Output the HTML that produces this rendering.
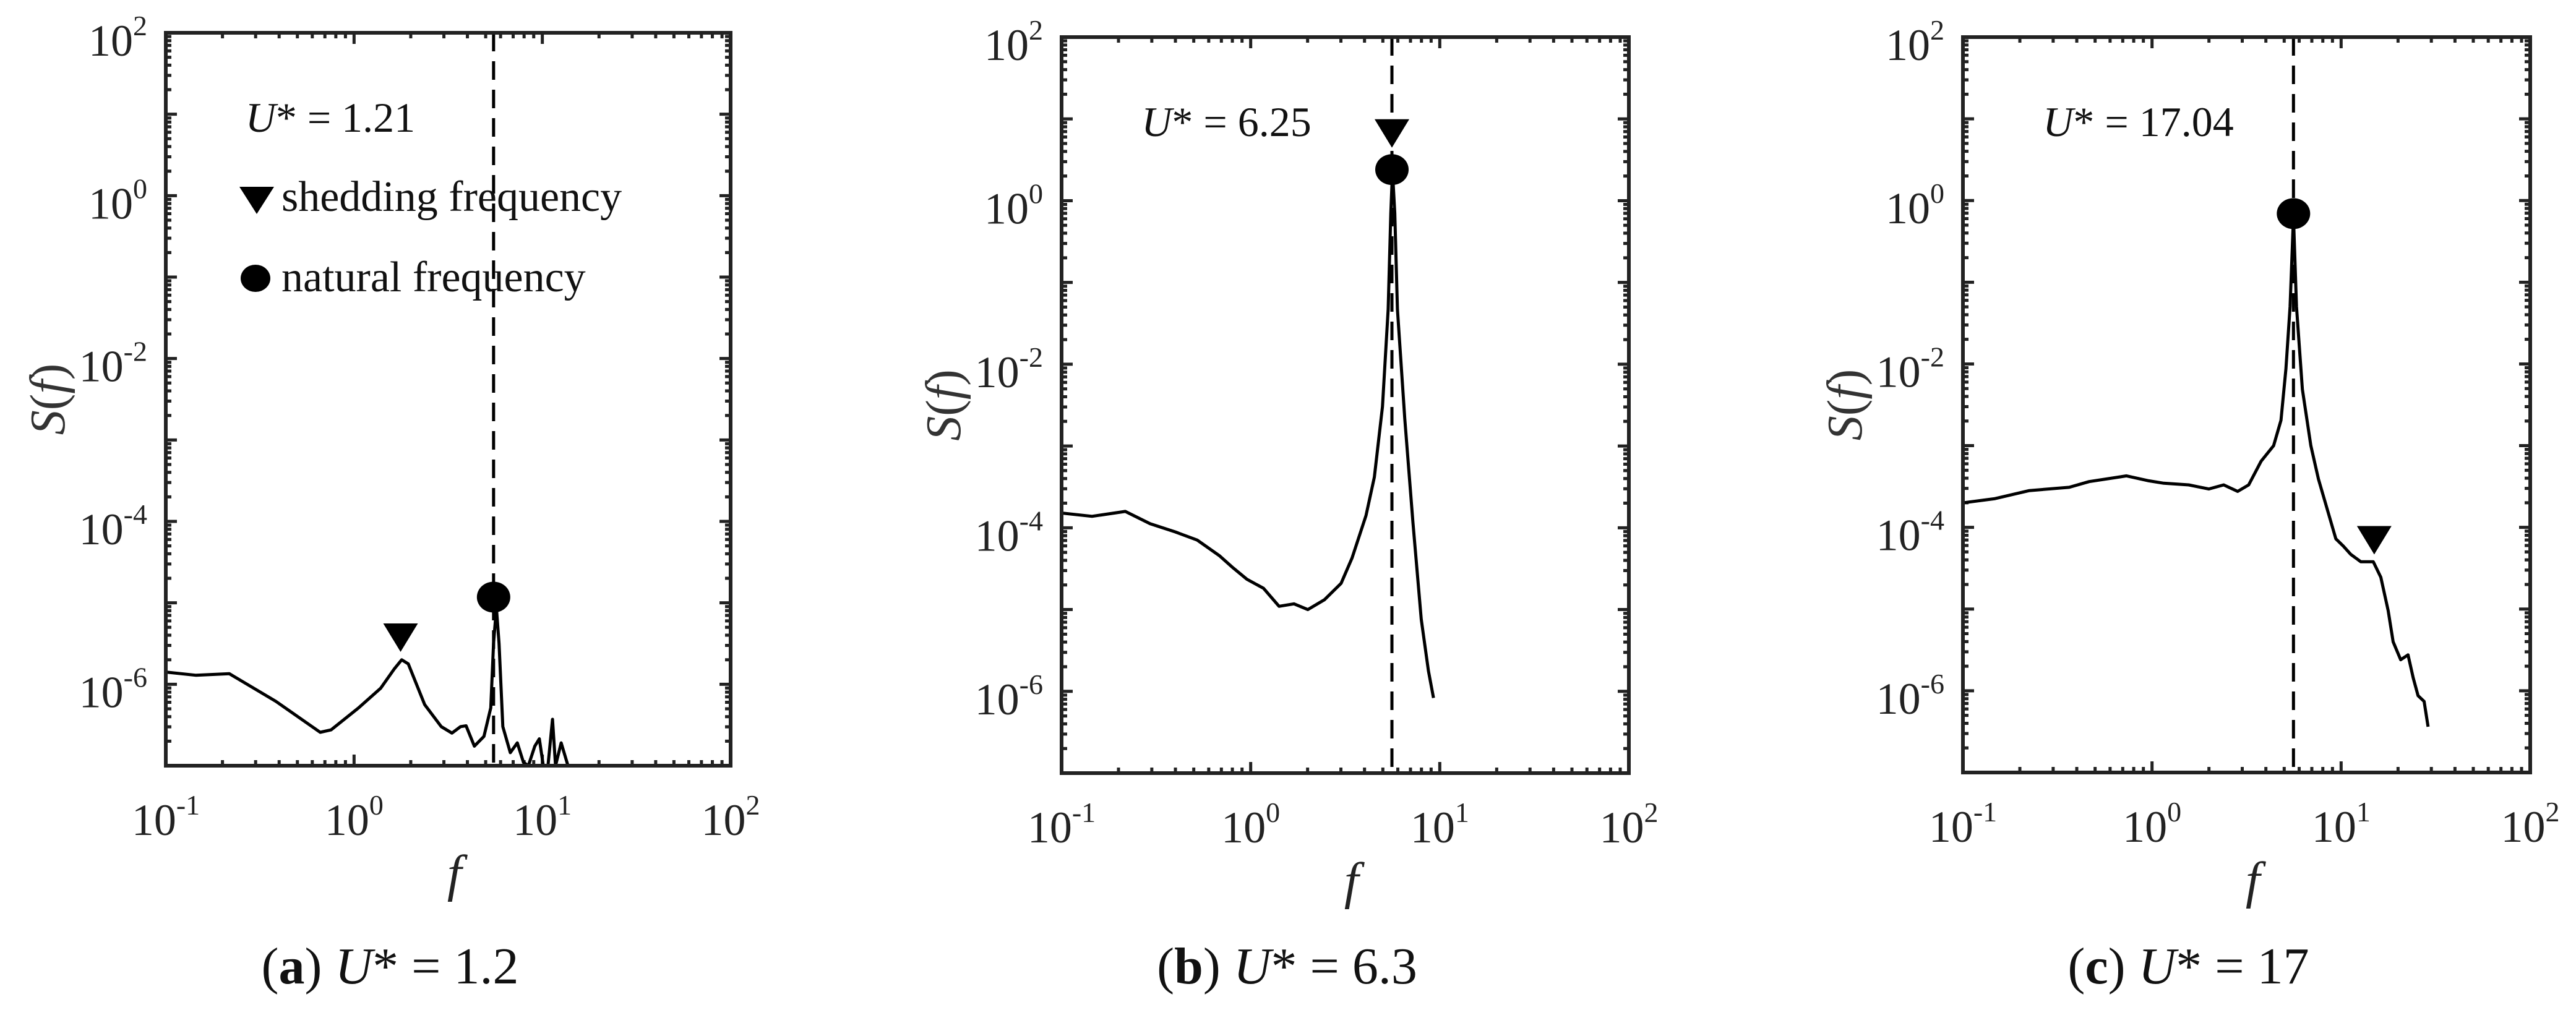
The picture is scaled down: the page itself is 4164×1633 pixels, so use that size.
<!DOCTYPE html>
<html><head><meta charset="utf-8"><style>
html,body{margin:0;padding:0;background:#fff;}
svg{display:block;}
svg text{font-family:"Liberation Serif","Times New Roman","DejaVu Serif",serif;}
</style></head><body>
<svg id="fig" width="4164" height="1633" viewBox="0 0 4164 1633" xmlns="http://www.w3.org/2000/svg" font-family="'Liberation Serif', 'Times New Roman', serif"></svg>
<script>
// ---- data (log10 f, log10 S) ----
const aLogF=[-1,-0.839,-0.663,-0.415,-0.18,-0.122,0.024,0.141,0.214,0.253,0.288,0.375,0.463,0.52,0.566,0.595,0.639,0.69,0.726,0.741,0.756,0.77,0.79,0.83,0.867,0.90,0.926,0.96,0.984,1.005,1.03,1.054,1.07,1.1,1.136];
const aLogS=[-5.85,-5.89,-5.87,-6.21,-6.59,-6.56,-6.29,-6.05,-5.81,-5.70,-5.75,-6.25,-6.52,-6.6,-6.52,-6.51,-6.76,-6.64,-6.29,-5.5,-5.06,-5.5,-6.52,-6.84,-6.72,-6.96,-7.0,-6.76,-6.67,-7.0,-7.0,-6.43,-7.0,-6.72,-7.0];
const bLogF=[-1,-0.839,-0.663,-0.532,-0.4,-0.283,-0.166,-0.093,-0.02,0.068,0.15,0.229,0.302,0.39,0.478,0.536,0.61,0.654,0.697,0.727,0.741,0.75,0.762,0.776,0.815,0.858,0.902,0.94,0.967];
const bLogS=[-3.82,-3.86,-3.80,-3.95,-4.05,-4.15,-4.34,-4.49,-4.63,-4.74,-4.96,-4.93,-5.0,-4.88,-4.68,-4.37,-3.85,-3.38,-2.52,-1.33,-0.15,0.36,-0.15,-1.33,-2.67,-3.93,-5.12,-5.75,-6.08];
const cLogF=[-1,-0.834,-0.649,-0.438,-0.333,-0.135,-0.017,0.062,0.194,0.30,0.379,0.453,0.511,0.577,0.643,0.682,0.708,0.73,0.748,0.764,0.795,0.84,0.88,0.932,0.972,1.012,1.051,1.104,1.17,1.21,1.249,1.275,1.315,1.354,1.381,1.407,1.439,1.46];
const cLogS=[-3.70,-3.65,-3.55,-3.51,-3.44,-3.37,-3.43,-3.46,-3.48,-3.53,-3.48,-3.56,-3.48,-3.19,-3.0,-2.69,-2.06,-1.30,-0.20,-1.30,-2.31,-3.0,-3.41,-3.82,-4.14,-4.23,-4.33,-4.42,-4.42,-4.61,-5.02,-5.40,-5.62,-5.56,-5.84,-6.06,-6.13,-6.44];
const naturalLogF=[0.741,0.747,0.748];
const naturalLogS=[-4.93,0.38,-0.16];
const sheddingLogF=[0.247,0.747,1.175];
const sheddingLogS=[-5.42,0.83,-4.15];
const dashLogF=[0.741,0.747,0.748];
const uLabels=["U* = 1.21","U* = 6.25","U* = 17.04"];
const captionLetters=["a","b","c"];
const captionValues=["1.2","6.3","17"];
const xTickExp=[-1,0,1,2];
const yTickExp=[2,0,-2,-4,-6];

const NS="http://www.w3.org/2000/svg";
const FONT="'Liberation Serif', 'Times New Roman', 'DejaVu Serif', serif";
const svg=document.getElementById('fig');
function mk(tag,attrs,parent){const e=document.createElementNS(NS,tag);if(tag==='text')e.setAttribute('font-family',FONT);for(const k in attrs)e.setAttribute(k,attrs[k]);(parent||svg).appendChild(e);return e;}

const panels=[
 {L:268,T:53,W:913,H:1185,lf:aLogF,ls:aLogS},
 {L:1716,T:60,W:917,H:1190,lf:bLogF,ls:bLogS},
 {L:3173,T:60,W:917,H:1189,lf:cLogF,ls:cLogS}
];
const XMIN=-1,XMAX=2,YMIN=-7,YMAX=2;

panels.forEach((p,i)=>{
  const g=mk('g',{});
  
  
  const sx=v=>p.L+(v-XMIN)/(XMAX-XMIN)*p.W;
  const sy=v=>p.T+(YMAX-v)/(YMAX-YMIN)*p.H;
  const B=p.T+p.H,R=p.L+p.W;
  const cp=mk('clipPath',{id:'clip'+i},g);
  mk('rect',{x:p.L,y:p.T,width:p.W,height:p.H},cp);
  let td='';
  for(let d=XMIN;d<XMAX;d++){for(let m=1;m<=9;m++){const x=sx(d+Math.log10(m));const len=m===1?18:9;if(m===1&&d===XMIN)continue;td+=`M${x},${B}v${-len}M${x},${p.T}v${len}`;}}
  for(let d=YMIN;d<YMAX;d++){for(let m=1;m<=9;m++){const y=sy(d+Math.log10(m));const len=m===1?18:9;if(m===1&&d===YMIN)continue;td+=`M${p.L},${y}h${len}M${R},${y}h${-len}`;}}
  const ticks=mk('path',{d:td,stroke:'#222','stroke-width':5,fill:'none'},g);
  
  
  const dl=mk('line',{x1:sx(dashLogF[i]),x2:sx(dashLogF[i]),y1:p.T,y2:B,stroke:'#000','stroke-width':5,'stroke-dasharray':'30,16'},g);
  
  
  const pts=p.lf.map((f,k)=>sx(f).toFixed(1)+','+sy(p.ls[k]).toFixed(1)).join(' ');
  const cv=mk('polyline',{points:pts,fill:'none',stroke:'#000','stroke-width':5,'stroke-linejoin':'round','clip-path':`url(#clip${i})`},g);
  
  
  const bx=mk('rect',{x:p.L,y:p.T,width:p.W,height:p.H,fill:'none',stroke:'#222','stroke-width':6},g);
  
  
  const cx=sx(naturalLogF[i]),cy=sy(naturalLogS[i]);
  const c=mk('ellipse',{cx:cx,cy:cy,rx:27,ry:25,fill:'#000'},g);
  
  
  const tx=sx(sheddingLogF[i]),ty=sy(sheddingLogS[i]);
  const t=mk('polygon',{points:`${tx-28},${ty-22} ${tx+28},${ty-22} ${tx},${ty+24}`,fill:'#000'},g);
  
  
  xTickExp.forEach(e=>{
    const tl=mk('text',{x:sx(e),y:B+112,'font-size':72,'text-anchor':'middle',fill:'#222'},g);
    
    
    tl.appendChild(document.createTextNode('10'));
    const s=mk('tspan',{'font-size':46,dy:-33},tl);s.textContent=String(e);
  });
  yTickExp.forEach(e=>{
    const tl=mk('text',{x:p.L-30,y:sy(e)+37,'font-size':72,'text-anchor':'end',fill:'#222'},g);
    
    
    tl.appendChild(document.createTextNode('10'));
    const s=mk('tspan',{'font-size':46,dy:-33},tl);s.textContent=String(e);
  });
  const xt=mk('text',{x:p.L+p.W/2+10,y:B+202,'font-size':84,'font-style':'italic','text-anchor':'middle',fill:'#222'},g);
  xt.textContent='f';
  
  
  const yx=p.L-190,yy=p.T+p.H*0.5;
  const yt=mk('text',{x:yx,y:yy,'font-size':80,'text-anchor':'middle','dominant-baseline':'central',transform:`rotate(-90 ${yx} ${yy})`,fill:'#333'},g);
  
  
  const s1=mk('tspan',{'font-style':'italic'},yt);s1.textContent='S';
  const s2=mk('tspan',{},yt);s2.textContent='(';
  const s3=mk('tspan',{'font-style':'italic'},yt);s3.textContent='f';
  const s4=mk('tspan',{},yt);s4.textContent=')';
  const ua=mk('text',{x:p.L+0.141*p.W,y:p.T+160,'font-size':68,fill:'#111'},g);
  
  
  const u1=mk('tspan',{'font-style':'italic'},ua);u1.textContent='U';
  const u2=mk('tspan',{},ua);u2.textContent=uLabels[i].slice(1);
  const cap=mk('text',{x:p.L+p.W/2-94,y:1590,'font-size':84,'text-anchor':'middle',fill:'#111'},g);
  
  
  const c1=mk('tspan',{},cap);c1.textContent='(';
  const c2=mk('tspan',{'font-weight':'bold'},cap);c2.textContent=captionLetters[i];
  const c3=mk('tspan',{},cap);c3.textContent=') ';
  const c4=mk('tspan',{'font-style':'italic'},cap);c4.textContent='U';
  const c5=mk('tspan',{},cap);c5.textContent='* = '+captionValues[i];
});

const lg=mk('g',{});


const lt=mk('polygon',{points:'387,302 443,302 415,346',fill:'#000'},lg);


const ltx=mk('text',{x:455,y:341,'font-size':70,fill:'#111'},lg);
ltx.textContent='shedding frequency';


const lc=mk('ellipse',{cx:413,cy:450,rx:24,ry:22,fill:'#000'},lg);


const lcx=mk('text',{x:455,y:471,'font-size':70,fill:'#111'},lg);
lcx.textContent='natural frequency';


</script>
</body></html>
